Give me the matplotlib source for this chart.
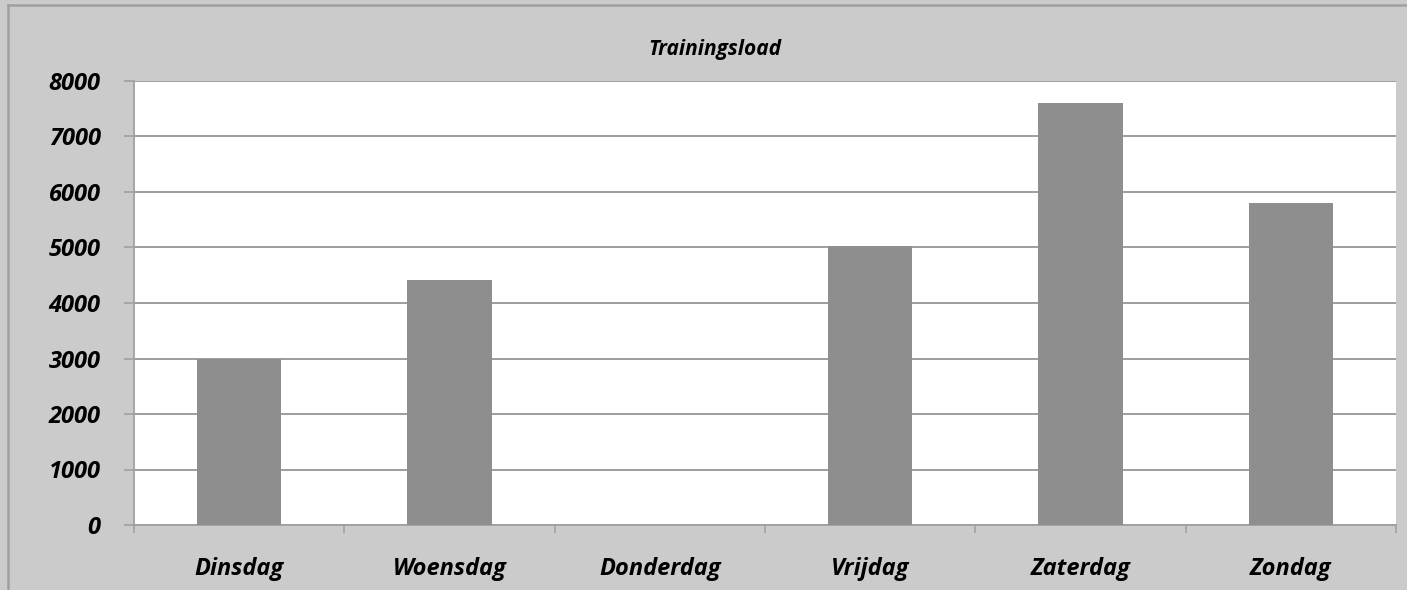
import numpy as np
import matplotlib.pyplot as plt
from matplotlib.lines import Line2D

dagen = ['Dinsdag', 'Woensdag', 'Donderdag', 'Vrijdag', 'Zaterdag', 'Zondag']
load = [3000, 4420, 0, 5020, 7600, 5800]
yticks = [0, 1000, 2000, 3000, 4000, 5000, 6000, 7000, 8000]

plt.rcParams['font.family'] = ['Open Sans', 'DejaVu Sans']

fig = plt.figure(figsize=(14.07, 5.90), dpi=100)
fig.patch.set_facecolor('#cbcbcb')

# rand van de grafiek
fig.add_artist(Line2D([8/1407, 8/1407], [0, 1 - 5/590], color='#a0a0a0', lw=1.8))
fig.add_artist(Line2D([8/1407, 1], [1 - 5/590, 1 - 5/590], color='#a0a0a0', lw=1.8))

ax = fig.add_axes([134/1407, 65/590, 1262/1407, 444/590])
ax.set_facecolor('white')

x = np.arange(len(dagen))
ax.bar(x, load, width=0.4, color='#8e8e8e', zorder=3)

ax.set_xlim(-0.5, len(dagen) - 0.5)
ax.set_ylim(0, 8000)
ax.set_yticks(yticks)
ax.set_yticklabels([str(v) for v in yticks], fontsize=17, fontweight='bold', style='italic')
ax.yaxis.grid(True, color='#8c8c8c', lw=1.2, zorder=0)

ax.set_xticks(x)
ax.set_xticklabels(dagen, fontsize=17, fontweight='bold', style='italic')
ax.set_xticks(np.arange(-0.5, len(dagen)), minor=True)
ax.tick_params(axis='x', which='major', length=0, pad=23)
ax.tick_params(axis='x', which='minor', length=6, color='#a0a0a0', width=1.2, direction='out')
ax.tick_params(axis='y', length=7, color='#a0a0a0', width=1.2, pad=17)

for s in ['top', 'right']:
    ax.spines[s].set_visible(False)
for s in ['left', 'bottom']:
    ax.spines[s].set_color('#a0a0a0')
    ax.spines[s].set_linewidth(1.3)

fig.text(715/1407, 1 - 49/590, 'Trainingsload', ha='center', va='center',
         fontsize=15, fontweight='bold', style='italic')

fig.savefig('out.png', dpi=100, facecolor=fig.get_facecolor())
